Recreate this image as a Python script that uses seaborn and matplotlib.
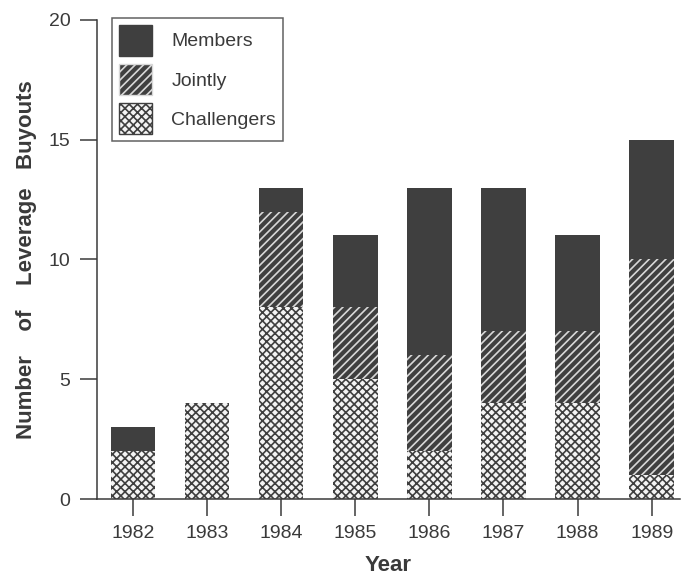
import numpy as np
import pandas as pd
import seaborn as sns
import matplotlib.pyplot as plt
from matplotlib.patches import Patch

years = ["1982", "1983", "1984", "1985", "1986", "1987", "1988", "1989"]
challengers = [2, 4, 8, 5, 2, 4, 4, 1]
jointly = [0, 0, 4, 3, 4, 3, 3, 9]
members = [1, 0, 1, 3, 7, 6, 4, 5]

sns.set_style("ticks")
plt.rcParams['font.family'] = ['Liberation Sans', 'DejaVu Sans']
plt.rcParams['hatch.linewidth'] = 1.2

dark = '#3f3f3f'
text_col = '#3a3a3a'

df = pd.DataFrame({"year": years, "challengers": challengers,
                   "jointly": jointly, "members": members})
df["cj"] = df["challengers"] + df["jointly"]
df["total"] = df["cj"] + df["members"]

fig = plt.figure(figsize=(6.86, 5.83), dpi=100)
ax = fig.add_axes([0.141, 0.144, 0.85, 0.822])

# draw cumulative layers, top layer first
sns.barplot(data=df, x="year", y="total", color=dark, saturation=1,
            width=0.6, linewidth=0, ax=ax)
sns.barplot(data=df, x="year", y="cj", color=dark, saturation=1,
            width=0.6, linewidth=0, hatch='////', edgecolor='#d8d8d8', ax=ax)
sns.barplot(data=df, x="year", y="challengers", color='#f4f4f4', saturation=1,
            width=0.6, linewidth=0, hatch='xxxx', edgecolor=dark, ax=ax)

ax.set_ylim(0, 20)
ax.set_xlim(-0.49, 7.38)
ax.set_yticks([0, 5, 10, 15, 20])
sns.despine(ax=ax)
for s in ['left', 'bottom']:
    ax.spines[s].set_color(text_col)
    ax.spines[s].set_linewidth(1.1)
ax.tick_params(colors=text_col, labelsize=14, length=12, width=1.1, pad=7)
ax.set_xlabel("Year", fontsize=16, fontweight='bold', color=text_col, labelpad=9)
ax.set_ylabel("Number    of    Leverage   Buyouts", fontsize=16,
              fontweight='bold', color=text_col, labelpad=8)

handles = [Patch(facecolor=dark, edgecolor=dark, label="Members"),
           Patch(facecolor=dark, hatch='////', edgecolor='#d8d8d8', label="Jointly"),
           Patch(facecolor='#f4f4f4', hatch='xxxx', edgecolor=dark, label="Challengers")]
leg = ax.legend(handles=handles, loc='upper left', bbox_to_anchor=(0.026, 1.004),
                fontsize=14, frameon=True, fancybox=False, edgecolor=text_col,
                handlelength=1.7, handleheight=2.1, labelspacing=0.4,
                borderpad=0.35, handletextpad=1.0, labelcolor=text_col,
                borderaxespad=0)
leg.get_frame().set_linewidth(1.1)

fig.savefig("out.png", dpi=100)
